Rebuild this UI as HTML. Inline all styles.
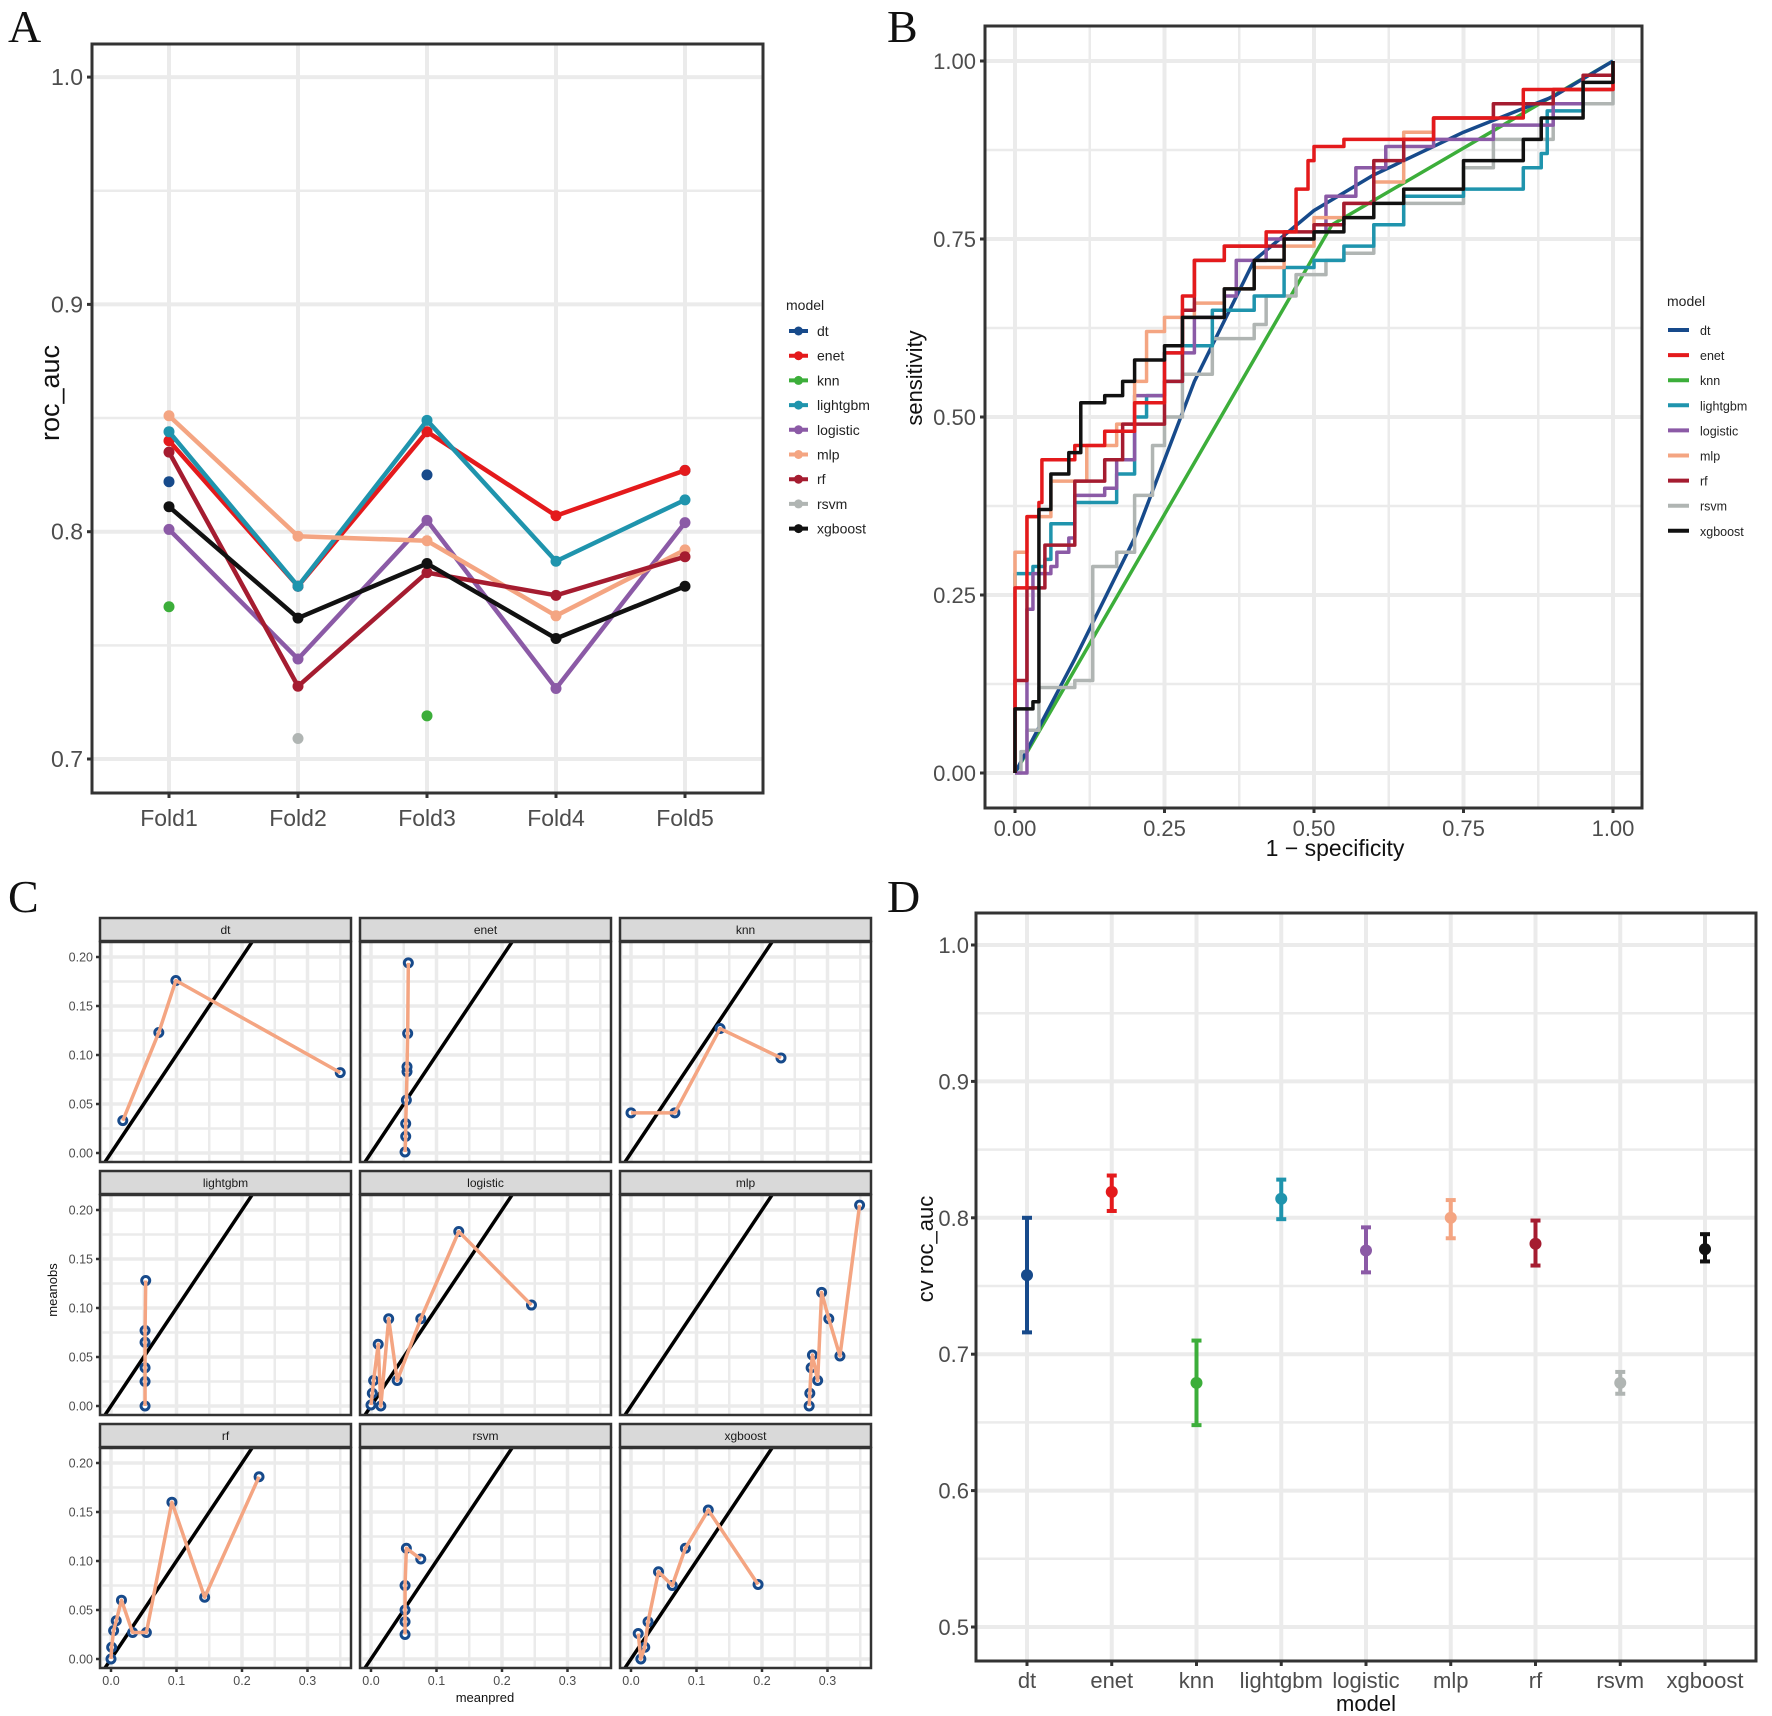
<!DOCTYPE html>
<html><head><meta charset="utf-8"><style>
html,body{margin:0;padding:0;background:#fff}
svg{display:block;font-family:"Liberation Sans",sans-serif}
</style></head>
<body>
<svg id="fig" width="1772" height="1716" viewBox="0 0 1772 1716" xmlns="http://www.w3.org/2000/svg"></svg>
<script>
// ---------- data ----------
const models = ["dt","enet","knn","lightgbm","logistic","mlp","rf","rsvm","xgboost"];
const colors = ["#174a8b","#e41a1c","#3cae3a","#1f94ad","#8b5aa6","#f4a582","#a51c30","#b0b5b3","#111111"];
// Panel A
const folds = ["Fold1","Fold2","Fold3","Fold4","Fold5"];
const aTicks = [0.7,0.8,0.9,1.0];
const aDt = [0.822,0.776,0.825,null,0.827];
const aEnet = [0.840,0.776,0.844,0.807,0.827];
const aKnn = [0.767,null,0.719,null,null];
const aLightgbm = [0.844,0.776,0.849,0.787,0.814];
const aLogistic = [0.801,0.744,0.805,0.731,0.804];
const aMlp = [0.851,0.798,0.796,0.763,0.792];
const aRf = [0.835,0.732,0.782,0.772,0.789];
const aRsvm = [null,0.709,null,null,null];
const aXgboost = [0.811,0.762,0.786,0.753,0.776];
// Panel B (ROC points: [1-specificity, sensitivity])
const bTicks = [0,0.25,0.5,0.75,1];
const bTickLabels = ["0.00","0.25","0.50","0.75","1.00"];
const rocDt = [[0,0],[0.1,0.16],[0.2,0.33],[0.3,0.55],[0.4,0.72],[0.5,0.79],[0.6,0.84],[0.75,0.9],[0.9,0.95],[1,1]];
const rocEnet = [[0,0],[0,0.26],[0.02,0.36],[0.04,0.38],[0.045,0.44],[0.1,0.46],[0.15,0.48],[0.2,0.52],[0.25,0.59],[0.28,0.67],[0.3,0.72],[0.35,0.74],[0.42,0.76],[0.47,0.82],[0.49,0.86],[0.5,0.88],[0.55,0.89],[0.7,0.92],[0.85,0.96],[1,1]];
const rocKnn = [[0,0],[0.53,0.77],[1,1]];
const rocLightgbm = [[0,0],[0,0.28],[0.03,0.29],[0.05,0.3],[0.06,0.35],[0.1,0.38],[0.17,0.42],[0.2,0.5],[0.22,0.53],[0.25,0.55],[0.28,0.6],[0.33,0.65],[0.4,0.67],[0.45,0.71],[0.5,0.72],[0.55,0.74],[0.6,0.77],[0.65,0.81],[0.75,0.82],[0.85,0.85],[0.88,0.87],[0.89,0.93],[0.95,0.96],[1,0.98]];
const rocLogistic = [[0,0],[0.02,0.01],[0.02,0.23],[0.03,0.28],[0.06,0.29],[0.07,0.31],[0.09,0.33],[0.1,0.39],[0.15,0.4],[0.17,0.44],[0.2,0.53],[0.25,0.59],[0.3,0.64],[0.35,0.67],[0.37,0.72],[0.42,0.75],[0.5,0.76],[0.52,0.81],[0.57,0.85],[0.62,0.88],[0.7,0.89],[0.8,0.91],[0.9,0.94],[0.95,0.96],[1,0.98]];
const rocMlp = [[0,0.15],[0,0.31],[0.02,0.36],[0.06,0.41],[0.12,0.46],[0.17,0.49],[0.2,0.55],[0.22,0.62],[0.25,0.64],[0.3,0.66],[0.35,0.68],[0.4,0.71],[0.45,0.74],[0.5,0.78],[0.55,0.8],[0.6,0.83],[0.65,0.9],[0.7,0.92],[0.8,0.94],[0.9,0.96],[1,0.99]];
const rocRf = [[0,0],[0,0.13],[0.02,0.19],[0.02,0.26],[0.05,0.32],[0.1,0.41],[0.15,0.44],[0.18,0.49],[0.25,0.55],[0.28,0.65],[0.3,0.72],[0.35,0.74],[0.45,0.76],[0.5,0.77],[0.55,0.8],[0.6,0.86],[0.65,0.89],[0.7,0.92],[0.8,0.94],[0.9,0.96],[0.95,0.98],[1,1]];
const rocRsvm = [[0,0],[0.01,0.03],[0.02,0.06],[0.04,0.12],[0.1,0.13],[0.13,0.29],[0.17,0.31],[0.2,0.39],[0.23,0.46],[0.25,0.5],[0.28,0.56],[0.33,0.61],[0.4,0.63],[0.42,0.67],[0.47,0.7],[0.52,0.72],[0.55,0.73],[0.6,0.77],[0.65,0.8],[0.75,0.85],[0.8,0.89],[0.9,0.94],[1,0.99]];
const rocXgboost = [[0,0],[0,0.09],[0.03,0.1],[0.04,0.37],[0.06,0.42],[0.09,0.45],[0.11,0.52],[0.15,0.53],[0.18,0.55],[0.2,0.58],[0.25,0.6],[0.28,0.64],[0.35,0.68],[0.4,0.72],[0.45,0.75],[0.5,0.76],[0.55,0.78],[0.6,0.8],[0.65,0.82],[0.75,0.86],[0.85,0.89],[0.88,0.92],[0.95,0.97],[1,1]];
// Panel C (calibration: [meanpred, meanobs])
const cXTicks = [0,0.1,0.2,0.3];
const cXTickLabels = ["0.0","0.1","0.2","0.3"];
const cYTicks = [0,0.05,0.1,0.15,0.2];
const cYTickLabels = ["0.00","0.05","0.10","0.15","0.20"];
const calDt = [[0.018,0.033],[0.073,0.123],[0.099,0.176],[0.35,0.082]];
const calEnet = [[0.052,0.001],[0.053,0.017],[0.053,0.03],[0.054,0.054],[0.055,0.083],[0.055,0.088],[0.056,0.122],[0.057,0.194]];
const calKnn = [[0.0,0.041],[0.067,0.041],[0.136,0.127],[0.229,0.097]];
const calLightgbm = [[0.052,0.0],[0.052,0.025],[0.052,0.039],[0.052,0.065],[0.052,0.077],[0.053,0.128]];
const calLogistic = [[0.0,0.001],[0.002,0.013],[0.004,0.026],[0.011,0.063],[0.015,0.0],[0.027,0.089],[0.04,0.026],[0.076,0.089],[0.134,0.178],[0.245,0.103]];
const calMlp = [[0.272,0.0],[0.273,0.013],[0.275,0.039],[0.277,0.052],[0.285,0.026],[0.291,0.116],[0.302,0.089],[0.319,0.051],[0.349,0.205]];
const calRf = [[0,0],[0.001,0.012],[0.004,0.029],[0.008,0.039],[0.016,0.06],[0.033,0.027],[0.054,0.027],[0.093,0.16],[0.143,0.063],[0.226,0.186]];
const calRsvm = [[0.052,0.025],[0.052,0.038],[0.052,0.05],[0.052,0.075],[0.054,0.113],[0.076,0.102]];
const calXgboost = [[0.011,0.026],[0.015,0.0],[0.021,0.012],[0.026,0.038],[0.042,0.089],[0.063,0.075],[0.083,0.113],[0.118,0.152],[0.194,0.076]];
// Panel D
const dTicks = [0.5,0.6,0.7,0.8,0.9,1.0];
const dMean = [0.758,0.819,0.679,0.814,0.776,0.800,0.781,0.679,0.777];
const dLow = [0.716,0.805,0.648,0.799,0.760,0.785,0.765,0.671,0.768];
const dHigh = [0.800,0.831,0.710,0.828,0.793,0.813,0.798,0.687,0.788];

const svg = document.getElementById('fig');
const NS = "http://www.w3.org/2000/svg";
function mk(tag, attrs, parent){ const e=document.createElementNS(NS,tag); for(const k in attrs) e.setAttribute(k,attrs[k]); (parent||svg).appendChild(e); return e; }
function txt(s, attrs, parent){ const e=mk('text',attrs,parent); e.textContent=s; return e; }
const GRID="#ebebeb", BORDER="#333333", TICKTXT="#4d4d4d";

// ---------- panel letters ----------
[["A",8,42],["B",887,42],["C",8,912],["D",887,912]].forEach(p=>{
  const t=txt(p[0],{x:p[1],y:p[2],'font-family':'"Liberation Serif",serif','font-size':46,fill:'#111'});
  
  
});

// ---------- Panel A ----------
(function(){
  const g=mk('g',{});
  
  
  const L=92,R=763,T=44,B=793;
  const xs=i=>169+i*129;
  const ys=v=>759-(v-0.7)*2273;
  [0.75,0.85,0.95].forEach(v=>mk('line',{x1:L,x2:R,y1:ys(v),y2:ys(v),stroke:GRID,'stroke-width':2.5},g));
  aTicks.forEach(v=>mk('line',{x1:L,x2:R,y1:ys(v),y2:ys(v),stroke:GRID,'stroke-width':4},g));
  folds.forEach((f,i)=>mk('line',{x1:xs(i),x2:xs(i),y1:T,y2:B,stroke:GRID,'stroke-width':4},g));
  const series=[aDt,aEnet,aKnn,aLightgbm,aLogistic,aMlp,aRf,aRsvm,aXgboost];
  series.forEach((s,k)=>{
    const full=s.every(v=>v!==null);
    if(full){
      const pl=mk('polyline',{points:s.map((v,i)=>xs(i)+','+ys(v)).join(' '),fill:'none',stroke:colors[k],'stroke-width':4.5,'stroke-linejoin':'round'},g);
      
      
    }
    s.forEach((v,i)=>{ if(v===null) return;
      const c=mk('circle',{cx:xs(i),cy:ys(v),r:5.5,fill:colors[k]},g);
      
      
    });
  });
  const box=mk('rect',{x:L,y:T,width:R-L,height:B-T,fill:'none',stroke:BORDER,'stroke-width':3},g);
  
  
  aTicks.forEach(v=>{
    mk('line',{x1:L-5,x2:L,y1:ys(v),y2:ys(v),stroke:BORDER,'stroke-width':3},g);
    const t=txt(v.toFixed(1),{x:L-9,y:ys(v)+8,'text-anchor':'end','font-size':23,fill:TICKTXT},g);
    
    
  });
  folds.forEach((f,i)=>{
    mk('line',{x1:xs(i),x2:xs(i),y1:B,y2:B+5,stroke:BORDER,'stroke-width':3},g);
    const t=txt(f,{x:xs(i),y:826,'text-anchor':'middle','font-size':23,fill:TICKTXT},g);
    
    
  });
  const yt=txt('roc_auc',{x:0,y:0,transform:'translate(59,393) rotate(-90)','text-anchor':'middle','font-size':27,fill:'#111'},g);
  
  
  const lg=mk('g',{},g);
  
  
  txt('model',{x:786,y:310,'font-size':14,fill:'#222'},lg);
  models.forEach((m,k)=>{
    const y=331+k*24.7;
    const e=mk('g',{},lg);
    
    
    mk('line',{x1:789,x2:808,y1:y,y2:y,stroke:colors[k],'stroke-width':4},e);
    mk('circle',{cx:798.5,cy:y,r:4.5,fill:colors[k]},e);
    txt(m,{x:817,y:y+5,'font-size':14,fill:'#222'},e);
  });
})();

// ---------- Panel B ----------
(function(){
  const g=mk('g',{});
  
  
  const L=985,R=1642,T=26,B=808;
  const xs=v=>1015+v*598;
  const ys=v=>773-v*712;
  [0.125,0.375,0.625,0.875].forEach(v=>{
    mk('line',{x1:L,x2:R,y1:ys(v),y2:ys(v),stroke:GRID,'stroke-width':2.5},g);
    mk('line',{x1:xs(v),x2:xs(v),y1:T,y2:B,stroke:GRID,'stroke-width':2.5},g);
  });
  bTicks.forEach(v=>{
    mk('line',{x1:L,x2:R,y1:ys(v),y2:ys(v),stroke:GRID,'stroke-width':4},g);
    mk('line',{x1:xs(v),x2:xs(v),y1:T,y2:B,stroke:GRID,'stroke-width':4},g);
  });
  const curves=[rocDt,rocEnet,rocKnn,rocLightgbm,rocLogistic,rocMlp,rocRf,rocRsvm,rocXgboost];
  const order=[2,0,7,3,4,5,6,1,8];
  order.forEach(k=>{
    const pts=curves[k];
    let d='M'+xs(pts[0][0])+','+ys(pts[0][1]);
    for(let i=1;i<pts.length;i++){
      if(k===0||k===2) d+=' L'+xs(pts[i][0])+','+ys(pts[i][1]);
      else d+=' L'+xs(pts[i][0])+','+ys(pts[i-1][1])+' L'+xs(pts[i][0])+','+ys(pts[i][1]);
    }
    const p=mk('path',{d:d,fill:'none',stroke:colors[k],'stroke-width':3.5,'stroke-linejoin':'round'},g);
    
    
  });
  const box=mk('rect',{x:L,y:T,width:R-L,height:B-T,fill:'none',stroke:BORDER,'stroke-width':3},g);
  
  
  bTicks.forEach((v,i)=>{
    mk('line',{x1:L-5,x2:L,y1:ys(v),y2:ys(v),stroke:BORDER,'stroke-width':3},g);
    const t=txt(bTickLabels[i],{x:L-9,y:ys(v)+8,'text-anchor':'end','font-size':22,fill:TICKTXT},g);
    
    
    mk('line',{x1:xs(v),x2:xs(v),y1:B,y2:B+5,stroke:BORDER,'stroke-width':3},g);
    const t2=txt(bTickLabels[i],{x:xs(v),y:836,'text-anchor':'middle','font-size':22,fill:TICKTXT},g);
    
    
  });
  const xt=txt('1 − specificity',{x:1335,y:856,'text-anchor':'middle','font-size':23,fill:'#111'},g);
  
  
  const yt=txt('sensitivity',{x:0,y:0,transform:'translate(922,378) rotate(-90)','text-anchor':'middle','font-size':22,fill:'#111'},g);
  
  
  const lg=mk('g',{},g);
  
  
  txt('model',{x:1667,y:306,'font-size':14,fill:'#222'},lg);
  models.forEach((m,k)=>{
    const y=330+k*25.1;
    const e=mk('g',{},lg);
    
    
    mk('line',{x1:1668,x2:1689,y1:y,y2:y,stroke:colors[k],'stroke-width':4},e);
    txt(m,{x:1700,y:y+5,'font-size':12.5,fill:'#222'},e);
  });
})();

// ---------- Panel C ----------
(function(){
  const g=mk('g',{});
  
  
  const cal=[calDt,calEnet,calKnn,calLightgbm,calLogistic,calMlp,calRf,calRsvm,calXgboost];
  const defs=mk('defs',{},g);
  models.forEach((m,k)=>{
    const r=Math.floor(k/3), c=k%3;
    const L=100+260*c, R=L+251, ST=918+253*r, PT=ST+25, B=ST+244;
    const xs=v=>L+11+v*655;
    const ys=v=>B-9-v*980;
    const f=mk('g',{},g);
    
    
    const cp=mk('clipPath',{id:'clip'+k},defs);
    mk('rect',{x:L,y:PT,width:R-L,height:B-PT},cp);
    const inner=mk('g',{'clip-path':'url(#clip'+k+')'},f);
    [0.025,0.075,0.125,0.175,0.225].forEach(v=>mk('line',{x1:L,x2:R,y1:ys(v),y2:ys(v),stroke:GRID,'stroke-width':2.5},inner));
    [-0.015,0.05,0.15,0.25,0.35].forEach(v=>mk('line',{x1:xs(v),x2:xs(v),y1:PT,y2:B,stroke:GRID,'stroke-width':2.5},inner));
    cYTicks.forEach(v=>mk('line',{x1:L,x2:R,y1:ys(v),y2:ys(v),stroke:GRID,'stroke-width':3.5},inner));
    cXTicks.forEach(v=>mk('line',{x1:xs(v),x2:xs(v),y1:PT,y2:B,stroke:GRID,'stroke-width':3.5},inner));
    const diag=mk('line',{x1:xs(-0.05),y1:ys(-0.05),x2:xs(0.4),y2:ys(0.4),stroke:'#000','stroke-width':3.5},inner);
    
    
    const pts=cal[k];
    pts.forEach(p=>{
      const cc=mk('circle',{cx:xs(p[0]),cy:ys(p[1]),r:4,fill:'#fff',stroke:'#174a8b','stroke-width':3},inner);
      
      
    });
    const pl=mk('polyline',{points:pts.map(p=>xs(p[0])+','+ys(p[1])).join(' '),fill:'none',stroke:'#f4a582','stroke-width':3.5,'stroke-linejoin':'round'},inner);
    
    
    const sr=mk('rect',{x:L,y:ST,width:R-L,height:23,fill:'#d9d9d9',stroke:BORDER,'stroke-width':2.5},f);
    
    
    const st=txt(m,{x:(L+R)/2,y:ST+16,'text-anchor':'middle','font-size':12,fill:'#1a1a1a'},f);
    
    
    mk('rect',{x:L,y:PT-1,width:R-L,height:B-PT+1,fill:'none',stroke:BORDER,'stroke-width':2.5},f);
    if(c===0){
      cYTicks.forEach((v,i)=>{
        mk('line',{x1:L-4,x2:L,y1:ys(v),y2:ys(v),stroke:BORDER,'stroke-width':2.5},f);
        const t=txt(cYTickLabels[i],{x:L-7,y:ys(v)+4.5,'text-anchor':'end','font-size':12.5,fill:TICKTXT},f);
        
        
      });
    }
    if(r===2){
      cXTicks.forEach((v,i)=>{
        mk('line',{x1:xs(v),x2:xs(v),y1:B,y2:B+4,stroke:BORDER,'stroke-width':2.5},f);
        const t=txt(cXTickLabels[i],{x:xs(v),y:B+17,'text-anchor':'middle','font-size':12.5,fill:TICKTXT},f);
        
        
      });
    }
  });
  const xt=txt('meanpred',{x:485,y:1702,'text-anchor':'middle','font-size':13,fill:'#111'},g);
  
  
  const yt=txt('meanobs',{x:0,y:0,transform:'translate(57,1290) rotate(-90)','text-anchor':'middle','font-size':13,fill:'#111'},g);
  
  
})();

// ---------- Panel D ----------
(function(){
  const g=mk('g',{});
  
  
  const L=976,R=1756,T=913,B=1661;
  const xs=i=>1027+i*84.75;
  const ys=v=>945-(v-1)*1364;
  [0.55,0.65,0.75,0.85,0.95].forEach(v=>mk('line',{x1:L,x2:R,y1:ys(v),y2:ys(v),stroke:GRID,'stroke-width':2.5},g));
  dTicks.forEach(v=>mk('line',{x1:L,x2:R,y1:ys(v),y2:ys(v),stroke:GRID,'stroke-width':4},g));
  models.forEach((m,i)=>mk('line',{x1:xs(i),x2:xs(i),y1:T,y2:B,stroke:GRID,'stroke-width':4},g));
  models.forEach((m,i)=>{
    const e=mk('g',{},g);
    
    
    mk('line',{x1:xs(i),x2:xs(i),y1:ys(dLow[i]),y2:ys(dHigh[i]),stroke:colors[i],'stroke-width':4},e);
    mk('line',{x1:xs(i)-5,x2:xs(i)+5,y1:ys(dLow[i]),y2:ys(dLow[i]),stroke:colors[i],'stroke-width':4},e);
    mk('line',{x1:xs(i)-5,x2:xs(i)+5,y1:ys(dHigh[i]),y2:ys(dHigh[i]),stroke:colors[i],'stroke-width':4},e);
    mk('circle',{cx:xs(i),cy:ys(dMean[i]),r:6,fill:colors[i]},e);
  });
  const box=mk('rect',{x:L,y:T,width:R-L,height:B-T,fill:'none',stroke:BORDER,'stroke-width':3},g);
  
  
  dTicks.forEach(v=>{
    mk('line',{x1:L-5,x2:L,y1:ys(v),y2:ys(v),stroke:BORDER,'stroke-width':3},g);
    const t=txt(v.toFixed(1),{x:L-7,y:ys(v)+8,'text-anchor':'end','font-size':22,fill:TICKTXT},g);
    
    
  });
  models.forEach((m,i)=>{
    mk('line',{x1:xs(i),x2:xs(i),y1:B,y2:B+5,stroke:BORDER,'stroke-width':3},g);
    const t=txt(m,{x:xs(i),y:1688,'text-anchor':'middle','font-size':22,fill:TICKTXT},g);
    
    
  });
  const xt=txt('model',{x:1366,y:1711,'text-anchor':'middle','font-size':22,fill:'#111'},g);
  
  
  const yt=txt('cv roc_auc',{x:0,y:0,transform:'translate(933,1249) rotate(-90)','text-anchor':'middle','font-size':22,fill:'#111'},g);
  
  
})();
</script>
</body></html>
